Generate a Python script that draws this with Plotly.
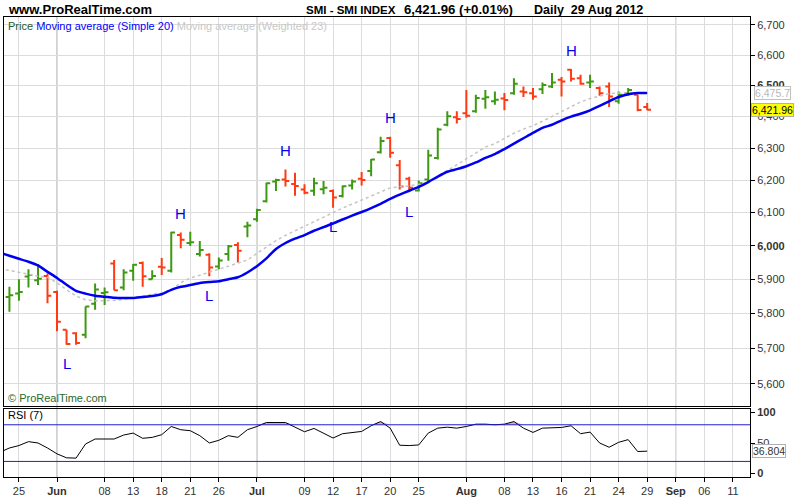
import math
import pandas as pd
import plotly.graph_objects as go

# trading calendar (SIX closed on Whit Monday and Swiss National Day)
holidays = ["2012-05-28", "2012-08-01"]
calendar = pd.bdate_range("2012-05-23", "2012-09-14")
calendar = calendar[~calendar.isin(pd.to_datetime(holidays))]
pos = {d.strftime("%Y-%m-%d"): i for i, d in enumerate(calendar)}

# daily bars from 23 May 2012 (first day only carries indicator values)
opens = [None, 5848, 5858, 5908, 5897, 5910, 5863, 5753, 5743, 5739, 5828, 5860, 5947, 5876,
         5925, 5948, 5900, 5937, 5925, 6032, 6008, 5975, 5973, 5938, 5975, 6002, 6058, 6080,
         6135, 6196, 6202, 6188, 6171, 6167, 6172, 6166, 6151, 6183, 6204, 6228, 6287, 6332,
         6246, 6204, 6168, 6202, 6269, 6374, 6398, 6411, 6417, 6457, 6449, 6458, 6475, 6481,
         6475, 6488, 6497, 6519, 6552, 6524, 6510, 6492, 6497, 6449, 6475, 6470, 6431]
highs = [None, 5878, 5900, 5930, 5945, 5917, 5866, 5753, 5746, 5820, 5888, 5876, 5957, 5930,
         5945, 5953, 5927, 5963, 6042, 6040, 6042, 6014, 5977, 5965, 6002, 6010, 6072, 6112,
         6192, 6204, 6233, 6223, 6187, 6207, 6197, 6171, 6183, 6202, 6225, 6266, 6336, 6336,
         6263, 6210, 6199, 6295, 6364, 6417, 6417, 6486, 6470, 6486, 6481, 6476, 6524, 6497,
         6492, 6510, 6541, 6528, 6554, 6535, 6535, 6497, 6510, 6481, 6492, 6470, 6444]
lows = [None, 5805, 5837, 5876, 5883, 5830, 5749, 5710, 5710, 5729, 5811, 5825, 5868, 5868,
        5896, 5878, 5900, 5913, 5920, 5992, 5999, 5968, 5909, 5930, 5955, 5950, 6025, 6072,
        6131, 6166, 6180, 6152, 6156, 6152, 6156, 6115, 6146, 6171, 6183, 6212, 6283, 6270,
        6171, 6163, 6165, 6192, 6264, 6369, 6378, 6396, 6412, 6425, 6438, 6420, 6470, 6463,
        6454, 6473, 6492, 6465, 6513, 6503, 6492, 6467, 6431, 6441, 6467, 6417, 6420]
closes = [None, 5853, 5863, 5913, 5902, 5852, 5776, 5712, 5715, 5820, 5870, 5862, 5868, 5920,
          5943, 5909, 5910, 5935, 6040, 6018, 6010, 5987, 5935, 5956, 5998, 5985, 6061, 6108,
          6190, 6200, 6197, 6182, 6161, 6190, 6176, 6146, 6181, 6196, 6200, 6264, 6322, 6285,
          6180, 6176, 6190, 6277, 6359, 6401, 6392, 6403, 6460, 6462, 6454, 6453, 6506, 6478,
          6465, 6502, 6510, 6513, 6522, 6506, 6513, 6475, 6465, 6470, 6486, 6421.3, 6421.96]
sma20 = [5979, 5970, 5961, 5952, 5941, 5922, 5904, 5884, 5866, 5858, 5852, 5849, 5846, 5845,
         5845, 5848, 5851, 5856, 5869, 5878, 5883, 5889, 5892, 5894, 5900, 5906, 5920, 5939,
         5962, 5990, 6008, 6021, 6032, 6045, 6056, 6067, 6079, 6091, 6102, 6114, 6127, 6142,
         6155, 6167, 6179, 6194, 6211, 6226, 6234, 6243, 6255, 6269, 6281, 6297, 6314, 6331,
         6348, 6364, 6374, 6388, 6400, 6409, 6420, 6434, 6449, 6463, 6472, 6476, 6476]
wma23 = [5932, 5927, 5922, 5915, 5909, 5906, 5890, 5869, 5851, 5840, 5837, 5837, 5838, 5841,
         5846, 5853, 5856, 5860, 5869, 5890, 5904, 5912, 5921, 5929, 5938, 5947, 5957, 5977,
         5996, 6015, 6031, 6045, 6058, 6072, 6085, 6099, 6114, 6126, 6139, 6152, 6164, 6176,
         6180, 6182, 6187, 6194, 6211, 6229, 6249, 6265, 6284, 6303, 6314, 6330, 6347, 6360,
         6371, 6385, 6400, 6416, 6432, 6447, 6458, 6467, 6474, 6476, 6476, 6476, 6475.7]
rsi7 = [35, 42, 46, 52.4, 50.2, 42, 32.4, 25.9, 25.4, 48.6, 56.7, 56.7, 56.7, 63.2, 66.4, 57.8,
        59.4, 63.8, 77.2, 71.9, 70.3, 62.2, 50.2, 54.6, 62.2, 59.4, 71.9, 77.2, 83.7, 83.7, 83.7,
        76.1, 68.6, 74, 66.4, 58.3, 65.4, 67.5, 69.1, 78.4, 85.3, 74.5, 46.5, 46, 47, 66.4, 74.5,
        76.1, 74.5, 77.2, 81, 81, 80, 81, 85.3, 74.5, 67.5, 74.5, 74.5, 75.6, 78.4, 65.4, 68,
        50.2, 43.2, 51.3, 55.7, 36.2, 36.804]

# zigzag pivot markers (bar dates)
highs_marked = ["2012-06-20", "2012-07-05", "2012-07-20", "2012-08-17"]
lows_marked = ["2012-06-04", "2012-06-25", "2012-07-12", "2012-07-24"]

tick_dates = ["2012-05-25", "2012-06-01", "2012-06-08", "2012-06-13", "2012-06-18", "2012-06-21",
              "2012-06-26", "2012-07-02", "2012-07-09", "2012-07-12", "2012-07-17", "2012-07-20",
              "2012-07-25", "2012-08-02", "2012-08-08", "2012-08-13", "2012-08-16", "2012-08-21",
              "2012-08-24", "2012-08-29", "2012-09-03", "2012-09-06", "2012-09-11"]
tick_labels = ["25", "<b>Jun</b>", "08", "13", "18", "21", "26", "<b>Jul</b>", "09", "12", "17",
               "20", "25", "<b>Aug</b>", "08", "13", "16", "21", "24", "29", "<b>Sep</b>", "06", "11"]
month_starts = ["2012-06-01", "2012-07-02", "2012-08-02", "2012-09-03"]

price_ticks = [5600, 5700, 5800, 5900, 6000, 6100, 6200, 6300, 6400, 6500, 6600, 6700]
price_labels = ["5,600", "5,700", "5,800", "5,900", "<b>6,000</b>", "6,100", "6,200", "6,300",
                "6,400", "<b>6,500</b>", "6,600", "6,700"]

x = list(range(len(sma20)))
tickvals = [pos[d] for d in tick_dates]

GREEN = "#3d9912"
RED = "#ff3a12"
BLUE = "#0000f0"
FONT = "Liberation Sans"

fig = go.Figure()

fig.add_trace(go.Ohlc(x=x, open=opens, high=highs, low=lows, close=closes,
                      increasing_line_color=GREEN, decreasing_line_color=RED,
                      line_width=2, tickwidth=0.4, xaxis="x", yaxis="y"))
fig.add_trace(go.Scatter(x=x, y=wma23, mode="lines", xaxis="x", yaxis="y",
                         line=dict(color="#c4c4c4", width=1.5, dash="3px,3px")))
fig.add_trace(go.Scatter(x=x, y=sma20, mode="lines", xaxis="x", yaxis="y",
                         line=dict(color=BLUE, width=2.5, shape="spline", smoothing=0.6)))

# RSI panel
fig.add_trace(go.Scatter(x=x, y=[80] * len(x), mode="lines", line=dict(width=0),
                         xaxis="x2", yaxis="y2"))
fig.add_trace(go.Scatter(x=x, y=[max(v, 80) for v in rsi7], mode="lines", line=dict(width=0),
                         fill="tonexty", fillcolor="#dcb0b8", xaxis="x2", yaxis="y2"))
fig.add_trace(go.Scatter(x=x, y=rsi7, mode="lines", line=dict(color="black", width=1),
                         xaxis="x2", yaxis="y2"))

xrange = [0.43, 78.8]
axis_common = dict(showline=True, linecolor="black", linewidth=1, mirror=True, zeroline=False)

fig.update_layout(
    width=800, height=500,
    margin=dict(l=3, r=50, t=17, b=19),
    paper_bgcolor="white", plot_bgcolor="white",
    showlegend=False,
    font=dict(family=FONT, size=11, color="#333333"),
    xaxis=dict(domain=[0, 1], anchor="y", range=xrange, tickvals=tickvals, showticklabels=False,
               showgrid=True, gridcolor="#dcdcdc", ticks="", rangeslider=dict(visible=False),
               **axis_common),
    xaxis2=dict(domain=[0, 1], anchor="y2", range=xrange, matches="x", tickvals=tickvals,
                ticktext=tick_labels, ticks="outside", ticklen=4, tickcolor="black",
                showgrid=True, gridcolor="#dcdcdc", tickfont=dict(size=11, color="#333333"),
                **axis_common),
    yaxis=dict(domain=[0.1552, 1], anchor="x", type="log", side="right",
               range=[math.log10(5539), math.log10(6726.7)], tickvals=price_ticks,
               ticktext=price_labels, ticks="outside", ticklen=4, tickcolor="black",
               showgrid=True, gridcolor="#dcdcdc", **axis_common),
    yaxis2=dict(domain=[0, 0.1487], anchor="x2", side="right", range=[-5.5, 106.5],
                tickvals=[0, 50, 100], ticktext=["<b>0</b>", "50", "<b>100</b>"],
                ticks="outside", ticklen=4, tickcolor="black", showgrid=False, **axis_common),
)

shapes = []
for d in month_starts:
    shapes.append(dict(type="line", xref="x", yref="paper", x0=pos[d], x1=pos[d], y0=0, y1=1,
                       line=dict(color="#a0a0a0", width=1), layer="below"))
for level in (20, 80):
    shapes.append(dict(type="line", xref="paper", yref="y2", x0=0, x1=1, y0=level, y1=level,
                       line=dict(color="#2020d0", width=1)))
fig.update_layout(shapes=shapes)

ann = []
# header
hdr_y = 1 + 7.5 / 464
ann.append(dict(text="<b>www.ProRealTime.com</b>", x=2 / 747, size=13))
ann.append(dict(text="<b>SMI - SMI INDEX</b>", x=300 / 747, size=11.5))
ann.append(dict(text="<b>6,421.96 (+0.01%)</b>", x=399 / 747, size=13.2))
ann.append(dict(text="<b>Daily  29 Aug 2012</b>", x=529 / 747, size=12.5))
for a in ann:
    size = a.pop("size")
    a.update(xref="paper", yref="paper", y=hdr_y, xanchor="left", yanchor="middle",
             showarrow=False, font=dict(size=size, color="black"))

ann.append(dict(xref="paper", yref="paper", x=2 / 747, y=(481 - 26) / 464, xanchor="left",
                yanchor="middle", showarrow=False, font=dict(size=11),
                text="<span style='color:#1e5a1e'>Price</span> "
                     "<span style='color:#0000ff'>Moving average (Simple 20)</span> "
                     "<span style='color:#c8c8c8'>Moving average (Weighted 23)</span>"))
ann.append(dict(xref="paper", yref="paper", x=2 / 747, y=(481 - 401) / 464, xanchor="left",
                yanchor="middle", showarrow=False, text="© ProRealTime.com",
                font=dict(size=11, color="#2a6a2a")))
ann.append(dict(xref="paper", yref="paper", x=2 / 747, y=(481 - 418) / 464, xanchor="left",
                yanchor="middle", showarrow=False, text="RSI (7)",
                font=dict(size=11, color="black")))

# pivot labels
for d in highs_marked:
    i = pos[d]
    ann.append(dict(xref="x", yref="y", x=i, y=math.log10(highs[i]), text="H", showarrow=False,
                    yanchor="middle", yshift=19, font=dict(size=15, color=BLUE)))
for d in lows_marked:
    i = pos[d]
    ann.append(dict(xref="x", yref="y", x=i, y=math.log10(lows[i]), text="L", showarrow=False,
                    yanchor="middle", yshift=-19, font=dict(size=15, color=BLUE)))

# last-value boxes on the right axis
ann.append(dict(xref="paper", yref="y", x=1, xanchor="left", xshift=4,
                y=math.log10(wma23[-1]), text=f"{wma23[-1]:,.1f}", showarrow=False,
                bgcolor="white", bordercolor="#c0c0c0", borderwidth=1, borderpad=0,
                font=dict(size=10.5, color="#b8b8b8")))
ann.append(dict(xref="paper", yref="y", x=1, xanchor="left", xshift=1,
                y=math.log10(closes[-1]), text=f"{closes[-1]:,.2f}", showarrow=False,
                bgcolor="#ffff00", bordercolor="#b0b0b0", borderwidth=1, borderpad=0,
                font=dict(size=10.5, color="black")))
ann.append(dict(xref="paper", yref="y2", x=1, xanchor="left", xshift=2,
                y=rsi7[-1], text=f"{rsi7[-1]:.3f}", showarrow=False,
                bgcolor="white", bordercolor="#b0b0b0", borderwidth=1, borderpad=0,
                font=dict(size=10.5, color="#333333")))

fig.update_layout(annotations=ann)

# the page's default body margin would shift the chart off the 800x500 frame
fig.write_html("out.html", config={"displayModeBar": False},
               post_script="document.body.style.margin='0';")
